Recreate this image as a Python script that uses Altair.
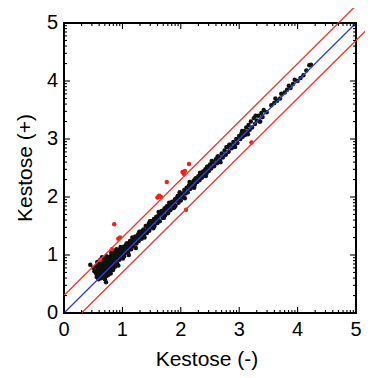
import altair as alt
import pandas as pd

# Black points: (Kestose (-), Kestose (+))
black_x = [0.45,0.50,0.52,0.55,0.55,0.56,0.57,0.58,0.58,0.59,0.60,0.60,0.61,0.61,0.62,0.62,0.63,0.63,0.64,0.64,
           0.65,0.65,0.66,0.66,0.67,0.67,0.68,0.68,0.69,0.69,0.70,0.70,0.70,0.71,0.71,0.72,0.72,0.72,0.73,0.73,
           0.74,0.74,0.75,0.75,0.76,0.76,0.77,0.77,0.78,0.78,0.79,0.80,0.80,0.80,0.81,0.82,0.82,0.83,0.84,0.84,
           0.85,0.86,0.86,0.87,0.88,0.88,0.89,0.90,0.90,0.91,0.92,0.93,0.94,0.95,0.96,0.97,0.98,0.99,1.00,1.00,
           0.58,0.62,0.66,0.70,0.74,0.78,0.82,0.86,0.60,0.64,0.68,0.72,0.76,0.80,0.84,0.88,0.92,0.96,
           1.02,1.03,1.05,1.06,1.08,1.09,1.10,1.12,1.13,1.15,1.16,1.18,1.19,1.21,1.22,1.24,1.25,1.27,1.28,1.30,
           1.31,1.33,1.34,1.36,1.37,1.39,1.40,1.42,1.43,1.45,1.46,1.48,1.49,1.51,1.52,1.54,1.55,1.57,1.58,1.60,
           1.61,1.63,1.64,1.66,1.67,1.69,1.70,1.72,1.73,1.75,1.76,1.78,1.79,1.81,1.82,1.84,1.85,1.87,1.88,1.90,
           1.91,1.93,1.94,1.96,1.97,1.99,2.00,1.04,1.14,1.26,1.35,1.44,1.56,1.65,1.74,1.86,1.95,
           2.02,2.04,2.06,2.08,2.10,2.12,2.14,2.16,2.18,2.20,2.22,2.24,2.26,2.28,2.30,2.32,2.34,2.36,2.38,2.40,
           2.42,2.44,2.46,2.48,2.50,2.52,2.55,2.57,2.60,2.62,2.65,2.67,2.70,2.72,2.75,2.77,2.80,2.82,2.85,2.87,
           2.90,2.92,2.95,2.97,3.00,2.25,2.45,2.63,2.83,
           3.02,3.04,3.06,3.08,3.10,3.12,3.14,3.16,3.18,3.20,3.22,3.25,3.27,3.30,3.33,3.35,3.38,3.40,3.42,
           3.55,3.60,3.65,3.70,3.72,3.78,3.82,3.85,3.88,3.92,3.95,4.00,4.05,4.10,4.15,4.20,4.23,
           0.57,0.61,0.65,0.69,0.73,0.77,0.81,0.85,0.89,0.93,0.97,1.01,1.07,1.11,1.17,1.23,1.29,1.38,1.47,1.53,
           1.62,1.71,1.80,1.89,1.98,2.07,2.15,2.23,2.33,2.43,2.53,2.68,2.78,2.93,3.05,3.15,3.28,3.36,3.47,3.62]
black_y = [0.83,0.78,0.72,0.68,0.80,0.62,0.74,0.66,0.86,0.58,0.70,0.78,0.63,0.90,0.72,0.82,0.60,0.68,0.76,0.86,
           0.64,0.72,0.80,0.92,0.62,0.70,0.76,0.84,0.66,0.94,0.58,0.72,0.80,0.68,0.88,0.53,0.76,0.84,0.64,0.92,
           0.70,0.80,0.74,0.88,0.66,0.84,0.78,0.96,0.72,0.90,0.82,0.68,0.86,0.98,0.76,0.90,1.02,0.80,0.88,0.74,
           0.95,0.84,1.06,0.92,0.80,1.00,0.90,0.96,1.10,0.86,1.02,0.94,1.08,0.92,1.00,1.12,0.96,1.05,1.00,1.14,
           0.74,0.78,0.68,0.86,0.82,0.80,0.95,0.97,0.66,0.82,0.90,0.70,0.92,0.76,0.98,0.92,0.95,1.06,
           1.08,0.98,1.16,1.04,1.12,1.20,1.06,1.16,1.24,1.10,1.22,1.28,1.15,1.25,1.32,1.20,1.30,1.36,1.24,1.34,
           1.40,1.28,1.38,1.44,1.33,1.42,1.50,1.38,1.48,1.54,1.42,1.52,1.58,1.47,1.56,1.62,1.50,1.60,1.66,1.55,
           1.64,1.70,1.58,1.70,1.76,1.64,1.74,1.80,1.68,1.78,1.84,1.72,1.82,1.88,1.77,1.86,1.92,1.81,1.90,1.96,
           1.85,1.94,2.00,1.90,1.98,2.04,1.94,1.12,1.20,1.28,1.42,1.50,1.58,1.72,1.80,1.90,2.02,
           2.06,2.00,2.12,2.06,2.16,2.08,2.20,2.14,2.24,2.17,2.28,2.21,2.32,2.26,2.36,2.29,2.40,2.33,2.44,2.37,
           2.48,2.41,2.52,2.45,2.56,2.49,2.60,2.53,2.65,2.58,2.70,2.63,2.75,2.68,2.80,2.73,2.86,2.78,2.90,2.84,
           2.95,2.88,3.00,2.93,3.05,2.32,2.52,2.70,2.90,
           3.00,3.10,3.04,3.14,3.07,3.20,3.12,3.24,3.16,3.30,3.20,3.36,3.26,3.32,3.40,3.30,3.45,3.38,3.50,
           3.58,3.62,3.66,3.70,3.78,3.80,3.85,3.92,3.88,3.95,4.02,4.00,4.05,4.10,4.18,4.27,4.28,
           0.88,0.84,0.96,0.60,0.98,0.70,1.04,0.78,1.08,0.82,1.14,0.94,1.20,1.00,1.30,1.12,1.40,1.30,1.58,1.46,
           1.74,1.64,1.90,1.82,2.08,1.98,2.26,2.16,2.42,2.36,2.62,2.60,2.86,2.86,3.14,3.08,3.40,3.30,3.46,3.70]

# Red (outlier) points
red_x = [0.86,0.93,0.96,0.62,0.82,1.60,1.63,1.66,1.76,2.03,2.07,2.05,2.14,2.09,3.21]
red_y = [1.53,1.28,1.30,0.92,1.10,1.99,2.02,2.00,2.26,2.43,2.45,2.40,2.57,1.78,2.94]

# Reference lines (identity and +/-0.3 limits)
blue_x = [0.0, 5.0]
blue_y = [0.0, 5.0]
upper_x = [0.0, 5.0]
upper_y = [0.3, 5.3]
lower_x = [0.3, 5.35]
lower_y = [0.0, 5.05]

major_ticks = [0, 1, 2, 3, 4, 5]
minor_offsets = [0.301, 0.477, 0.602, 0.699, 0.778, 0.845, 0.903, 0.954]
minor_ticks = [n + o for n in range(5) for o in minor_offsets]

x_title = "Kestose (-)"
y_title = "Kestose (+)"

FONT = "Liberation Sans"
dom = [0, 5]
W, H = 292, 290
MAJ, MIN = 6, 3

df_black = pd.DataFrame({"x": black_x, "y": black_y})
df_red = pd.DataFrame({"x": red_x, "y": red_y})
df_blue = pd.DataFrame({"x": blue_x, "y": blue_y})
df_up = pd.DataFrame({"x": upper_x, "y": upper_y})
df_lo = pd.DataFrame({"x": lower_x, "y": lower_y})
df_maj = pd.DataFrame({"t": major_ticks, "lab": [str(v) for v in major_ticks]})
df_min = pd.DataFrame({"t": minor_ticks})
df_one = pd.DataFrame({"xt": [x_title], "yt": [y_title]})


def sc():
    return alt.Scale(domain=dom, nice=False, zero=False)


def X(field):
    return alt.X(field, type="quantitative", scale=sc(), axis=None)


def Y(field):
    return alt.Y(field, type="quantitative", scale=sc(), axis=None)


pts_black = alt.Chart(df_black).mark_circle(size=20, color="#111111", opacity=1).encode(x=X("x"), y=Y("y"))
pts_red = alt.Chart(df_red).mark_circle(size=20, color="#e8231c", opacity=1).encode(x=X("x"), y=Y("y"))


def line(df, color, w):
    return alt.Chart(df).mark_line(color=color, strokeWidth=w).encode(x=X("x"), y=Y("y"))


def xticks(df, size):
    rule = alt.Chart(df).mark_rule(color="black", strokeWidth=1.1)
    bottom = rule.encode(x=X("t"), y=alt.value(H - size), y2=alt.value(H))
    top = rule.encode(x=X("t"), y=alt.value(0), y2=alt.value(size))
    return [bottom, top]


def yticks(df, size):
    rule = alt.Chart(df).mark_rule(color="black", strokeWidth=1.1)
    left = rule.encode(y=Y("t"), x=alt.value(0), x2=alt.value(size))
    right = rule.encode(y=Y("t"), x=alt.value(W - size), x2=alt.value(W))
    return [left, right]


x_labels = alt.Chart(df_maj).mark_text(
    font=FONT, fontSize=20, color="black", align="center", baseline="middle"
).encode(x=X("t"), y=alt.value(H + 17), text="lab:N")

y_labels = alt.Chart(df_maj).mark_text(
    font=FONT, fontSize=20, color="black", align="right", baseline="middle"
).encode(y=Y("t"), x=alt.value(-6), text="lab:N")

x_title_mark = alt.Chart(df_one).mark_text(
    font=FONT, fontSize=21, color="black", align="center", baseline="alphabetic"
).encode(x=alt.value(143), y=alt.value(H + 53), text="xt:N")

y_title_mark = alt.Chart(df_one).mark_text(
    font=FONT, fontSize=21, color="black", align="center", baseline="alphabetic", angle=270
).encode(x=alt.value(-32), y=alt.value(H / 2), text="yt:N")

layers = [pts_black, pts_red,
          line(df_blue, "#2b3be6", 1.3),
          line(df_up, "#ee3b33", 1.4),
          line(df_lo, "#ee3b33", 1.4)]
layers += xticks(df_maj, MAJ) + xticks(df_min, MIN) + yticks(df_maj, MAJ) + yticks(df_min, MIN)
layers += [x_labels, y_labels, x_title_mark, y_title_mark]

chart = alt.layer(*layers).properties(
    width=W, height=H,
    autosize=alt.AutoSizeParams(type="none"),
    padding={"left": 56, "top": 15, "right": 9, "bottom": 75},
    background="white",
).configure_view(stroke="black", strokeWidth=2)

chart.save("out.html", embed_options={"renderer": "svg", "actions": False})
